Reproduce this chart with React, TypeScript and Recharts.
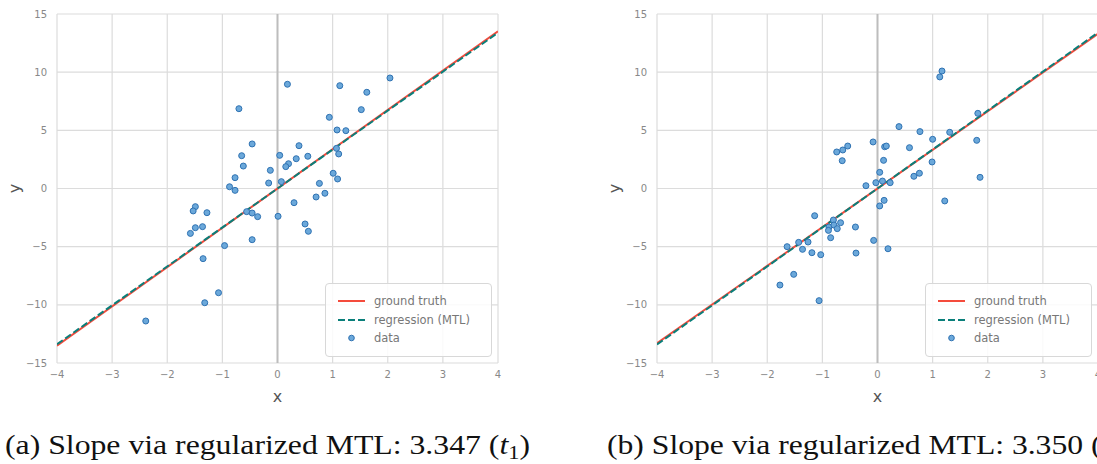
import React from "react";
import {
  ComposedChart,
  Line,
  Scatter,
  XAxis,
  YAxis,
  CartesianGrid,
  ReferenceLine,
  Legend,
} from "recharts";

const X_TICKS = [-4, -3, -2, -1, 0, 1, 2, 3, 4];
const Y_TICKS = [-15, -10, -5, 0, 5, 10, 15];

// task 1 samples
const dataT1 = [
  { x: -0.7, y: 6.86 }, { x: -0.46, y: 3.83 }, { x: -0.65, y: 2.82 }, { x: -0.62, y: 1.93 },
  { x: -0.77, y: 0.93 }, { x: -0.87, y: 0.15 }, { x: -0.77, y: -0.16 }, { x: -0.13, y: 1.56 },
  { x: -0.16, y: 0.47 }, { x: 0.04, y: 2.85 }, { x: 0.18, y: 8.96 }, { x: 1.13, y: 8.84 },
  { x: 2.04, y: 9.5 }, { x: 1.62, y: 8.27 }, { x: 1.52, y: 6.78 }, { x: 0.94, y: 6.12 },
  { x: 1.08, y: 5.03 }, { x: 1.24, y: 4.97 }, { x: 0.39, y: 3.68 }, { x: 1.07, y: 3.45 },
  { x: 1.11, y: 2.97 }, { x: 0.34, y: 2.56 }, { x: 0.55, y: 2.77 }, { x: 0.2, y: 2.13 },
  { x: 0.15, y: 1.88 }, { x: 1.01, y: 1.31 }, { x: 0.07, y: 0.59 }, { x: 1.09, y: 0.82 },
  { x: 0.76, y: 0.44 }, { x: 0.7, y: -0.73 }, { x: 0.86, y: -0.41 }, { x: -1.49, y: -1.56 },
  { x: -1.53, y: -1.93 }, { x: -1.28, y: -2.08 }, { x: -0.56, y: -1.99 }, { x: -0.46, y: -2.11 },
  { x: -0.36, y: -2.42 }, { x: 0.01, y: -2.39 }, { x: -1.36, y: -3.28 }, { x: -1.49, y: -3.37 },
  { x: -1.58, y: -3.86 }, { x: -0.96, y: -4.91 }, { x: -0.46, y: -4.4 }, { x: -1.35, y: -6.03 },
  { x: -1.07, y: -8.96 }, { x: -1.32, y: -9.82 }, { x: -2.39, y: -11.39 }, { x: 0.3, y: -1.22 },
  { x: 0.5, y: -3.05 }, { x: 0.56, y: -3.68 },
];

// task 2 samples (right panel)
const dataT2 = [
  { x: -0.74, y: 3.14 }, { x: -0.63, y: 3.31 }, { x: -0.54, y: 3.65 }, { x: -0.64, y: 2.39 },
  { x: -0.08, y: 4.0 }, { x: 0.13, y: 3.59 }, { x: 0.16, y: 3.65 }, { x: 0.11, y: 2.42 },
  { x: 0.04, y: 1.39 }, { x: -0.21, y: 0.24 }, { x: -0.03, y: 0.5 }, { x: 0.09, y: 0.64 },
  { x: 0.23, y: 0.5 }, { x: 1.17, y: 10.1 }, { x: 1.13, y: 9.59 }, { x: 1.82, y: 6.46 },
  { x: 0.39, y: 5.32 }, { x: 0.77, y: 4.89 }, { x: 1.31, y: 4.83 }, { x: 1.0, y: 4.23 },
  { x: 1.8, y: 4.14 }, { x: 0.58, y: 3.51 }, { x: 0.99, y: 2.28 }, { x: 0.76, y: 1.31 },
  { x: 0.66, y: 1.05 }, { x: 1.86, y: 0.96 }, { x: 0.04, y: -1.5 }, { x: 0.12, y: -1.02 },
  { x: 1.22, y: -1.07 }, { x: -0.07, y: -4.46 }, { x: 0.19, y: -5.18 }, { x: -1.14, y: -2.34 },
  { x: -0.8, y: -2.71 }, { x: -0.88, y: -3.31 }, { x: -0.89, y: -3.6 }, { x: -0.79, y: -3.14 },
  { x: -0.73, y: -3.45 }, { x: -0.67, y: -2.94 }, { x: -0.4, y: -3.31 }, { x: -0.85, y: -4.23 },
  { x: -1.43, y: -4.63 }, { x: -1.26, y: -4.6 }, { x: -1.64, y: -5.0 }, { x: -1.36, y: -5.23 },
  { x: -1.19, y: -5.52 }, { x: -1.03, y: -5.69 }, { x: -0.39, y: -5.55 }, { x: -1.52, y: -7.38 },
  { x: -1.77, y: -8.3 }, { x: -1.06, y: -9.64 },
];

// line endpoints at x = -4 and x = 4
const truthT1 = [{ x: -4, y: -13.52 }, { x: 4, y: 13.52 }];
const regT1 = [{ x: -4, y: -13.39 }, { x: 4, y: 13.39 }];
const truthT2 = [{ x: -4, y: -13.3 }, { x: 4, y: 13.3 }];
const regT2 = [{ x: -4, y: -13.4 }, { x: 4, y: 13.4 }];

const RED = "#f44b3c";
const TEAL = "#0a7f7a";
const DOT_FILL = "#6ba8da";
const DOT_STROKE = "#2f72b2";
const GRID = "#dcdcdc";

const Dot = (props: any) => (
  <circle cx={props.cx} cy={props.cy} r={3} fill={DOT_FILL} stroke={DOT_STROKE} strokeWidth={1} />
);

const LegendBox = () => (
  <div
    style={{
      boxSizing: "border-box",
      width: 167,
      height: 74,
      border: "1px solid #d8d8d8",
      borderRadius: 4,
      background: "rgba(255,255,255,0.85)",
      fontFamily: "'DejaVu Sans', sans-serif",
      fontSize: 11.5,
      color: "#777",
      position: "relative",
    }}
  >
    {[
      { label: "ground truth", kind: "solid" },
      { label: "regression (MTL)", kind: "dash" },
      { label: "data", kind: "dot" },
    ].map((it, i) => (
      <div
        key={it.label}
        style={{ position: "absolute", left: 0, top: 17 + i * 18.5 - 8, height: 16, display: "flex", alignItems: "center" }}
      >
        <svg width={48} height={16}>
          {it.kind === "solid" && <line x1={12} x2={39} y1={8} y2={8} stroke={RED} strokeWidth={2} />}
          {it.kind === "dash" && (
            <line x1={12} x2={39} y1={8} y2={8} stroke={TEAL} strokeWidth={2} strokeDasharray="7 3" />
          )}
          {it.kind === "dot" && <circle cx={25.5} cy={8} r={2.8} fill={DOT_FILL} stroke={DOT_STROKE} />}
        </svg>
        <span style={{ whiteSpace: "nowrap" }}>{it.label}</span>
      </div>
    ))}
  </div>
);

function Panel({ data, truth, reg, left }: { data: any[]; truth: any[]; reg: any[]; left: number }) {
  return (
    <div style={{ position: "absolute", left, top: 0 }}>
      <ComposedChart width={510} height={410} margin={{ top: 14, right: 12, bottom: 0, left: 0 }}>
        <CartesianGrid stroke={GRID} strokeWidth={1.2} horizontalValues={Y_TICKS} verticalValues={X_TICKS} />
        <XAxis
          type="number"
          dataKey="x"
          domain={[-4, 4]}
          ticks={X_TICKS}
          allowDataOverflow
          axisLine={false}
          tickLine={false}
          tickSize={0}
          tickMargin={8}
          height={47}
          tick={{ fontSize: 10, fill: "#888" }}
          tickFormatter={(v: number) => (v < 0 ? "\u2212" + Math.abs(v) : String(v))}
          label={{ value: "x", position: "insideBottom", offset: 8, style: { fontSize: 16, fill: "#555" } }}
        />
        <YAxis
          type="number"
          dataKey="y"
          domain={[-15, 15]}
          ticks={Y_TICKS}
          allowDataOverflow
          axisLine={false}
          tickLine={false}
          tickSize={0}
          tickMargin={10}
          width={57}
          tick={{ fontSize: 10, fill: "#888" }}
          tickFormatter={(v: number) => (v < 0 ? "\u2212" + Math.abs(v) : String(v))}
          label={{ value: "y", position: "insideLeft", angle: -90, offset: 14, style: { fontSize: 16, fill: "#555", textAnchor: "middle" } }}
        />
        <ReferenceLine x={0} stroke="#bdbdbd" strokeWidth={2} />
        <Line data={truth} dataKey="y" type="linear" stroke={RED} strokeWidth={2} dot={false} isAnimationActive={false} />
        <Line
          data={reg}
          dataKey="y"
          type="linear"
          stroke={TEAL}
          strokeWidth={2}
          strokeDasharray="7 3"
          dot={false}
          isAnimationActive={false}
        />
        <Scatter data={data} dataKey="y" shape={<Dot />} isAnimationActive={false} />
        <Legend
          layout="vertical"
          align="center"
          verticalAlign="middle"
          content={() => <LegendBox />}
          wrapperStyle={{ position: "absolute", left: 325, top: 283, width: 167, height: 74 }}
        />
      </ComposedChart>
    </div>
  );
}

const Caption = ({ left, label, value, sub }: { left: number; label: string; value: string; sub: string }) => (
  <svg style={{ position: "absolute", left, top: 420 }} width={560} height={44}>
    <text
      x={0}
      y={34}
      style={{ fontFamily: "Liberation Serif, DejaVu Serif, serif", fontSize: 27 }}
      fill="#111"
      textLength={525}
      lengthAdjust="spacingAndGlyphs"
    >
      {`(${label}) Slope via regularized MTL: ${value} (`}
      <tspan style={{ fontStyle: "italic" }}>t</tspan>
      <tspan style={{ fontSize: 19 }} dy={5}>{sub}</tspan>
      <tspan dy={-5}>)</tspan>
    </text>
  </svg>
);

export default function App() {
  return (
    <div
      style={{
        position: "absolute",
        left: 0,
        top: 0,
        width: 1097,
        height: 464,
        overflow: "hidden",
        background: "#fff",
        fontFamily: "'DejaVu Sans', sans-serif",
      }}
    >
      <Panel data={dataT1} truth={truthT1} reg={regT1} left={0} />
      <Panel data={dataT2} truth={truthT2} reg={regT2} left={600} />
      <Caption left={5} label="a" value="3.347" sub="1" />
      <Caption left={607} label="b" value="3.350" sub="2" />
    </div>
  );
}
